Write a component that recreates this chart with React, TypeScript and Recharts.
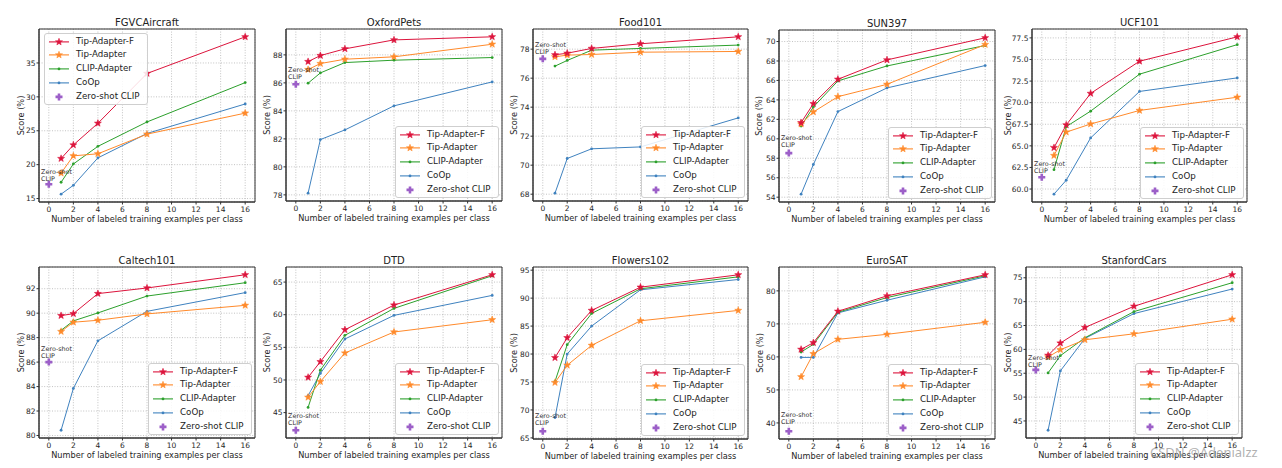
import React from 'react';
import { LineChart, Line, XAxis, YAxis, CartesianGrid, Legend, ReferenceArea } from 'recharts';

// ---------- data ----------
const datasetNames = ['FGVCAircraft', 'OxfordPets', 'Food101', 'SUN397', 'UCF101', 'Caltech101', 'DTD', 'Flowers102', 'EuroSAT', 'StanfordCars'];
const shots = [1, 2, 4, 8, 16];
const xTicks = [0, 2, 4, 6, 8, 10, 12, 14, 16];

const tipAdapterF = [
  [20.9, 22.9, 26.1, 33.45, 38.85],
  [87.52, 87.95, 88.43, 89.07, 89.29],
  [77.61, 77.72, 78.05, 78.37, 78.85],
  [61.66, 63.61, 66.12, 68.11, 70.38],
  [64.79, 67.42, 71.07, 74.8, 77.62],
  [89.8, 89.96, 91.6, 92.06, 93.14],
  [50.4, 52.8, 57.7, 61.48, 66.12],
  [79.35, 82.92, 87.8, 91.96, 94.17],
  [62.28, 64.3, 73.82, 78.48, 84.86],
  [58.75, 61.32, 64.58, 69.03, 75.63],
];
const tipAdapter = [
  [18.75, 21.3, 21.6, 24.5, 27.6],
  [86.95, 87.38, 87.69, 87.86, 88.76],
  [77.47, 77.59, 77.63, 77.79, 77.84],
  [61.52, 62.76, 64.33, 65.6, 69.69],
  [63.88, 66.59, 67.53, 69.1, 70.63],
  [88.5, 89.26, 89.42, 89.94, 90.64],
  [47.35, 49.75, 54.13, 57.35, 59.23],
  [74.9, 78.0, 81.55, 85.95, 87.8],
  [53.97, 60.96, 65.32, 66.84, 70.48],
  [58.4, 59.93, 62.01, 63.26, 66.32],
];
const clipAdapter = [
  [17.4, 20.1, 22.7, 26.3, 32.1],
  [85.98, 86.71, 87.45, 87.62, 87.81],
  [76.83, 77.22, 77.93, 78.05, 78.28],
  [61.31, 63.27, 65.95, 67.49, 69.59],
  [62.24, 67.22, 69.02, 73.3, 76.72],
  [88.6, 89.37, 90.02, 91.4, 92.49],
  [45.8, 51.5, 56.84, 60.97, 65.97],
  [75.1, 81.67, 87.26, 91.67, 93.81],
  [61.47, 63.8, 73.52, 77.97, 84.56],
  [55.07, 58.68, 62.43, 67.92, 73.96],
];
const coOp = [
  [15.65, 16.95, 21.0, 24.6, 28.95],
  [78.12, 81.95, 82.64, 84.36, 86.07],
  [68.07, 70.46, 71.13, 71.26, 73.26],
  [54.31, 57.36, 62.8, 65.23, 67.53],
  [59.41, 61.02, 65.92, 71.3, 72.87],
  [80.43, 83.85, 87.74, 90.15, 91.68],
  [47.6, 51.0, 56.28, 59.9, 62.96],
  [68.63, 80.0, 85.0, 91.49, 93.33],
  [59.85, 59.85, 73.32, 77.16, 84.25],
  [43.06, 55.49, 62.29, 67.5, 72.64],
];
const zeroShotClip = [17.1, 85.9, 77.33, 58.53, 61.37, 86.0, 42.3, 66.2, 37.5, 55.7];

const yTicks = [
  [15, 20, 25, 30, 35],
  [78, 80, 82, 84, 86, 88],
  [68, 70, 72, 74, 76, 78],
  [54, 56, 58, 60, 62, 64, 66, 68, 70],
  [60, 62.5, 65, 67.5, 70, 72.5, 75, 77.5],
  [80, 82, 84, 86, 88, 90, 92],
  [45, 50, 55, 60, 65],
  [65, 70, 75, 80, 85, 90, 95],
  [40, 50, 60, 70, 80],
  [45, 50, 55, 60, 65, 70, 75],
];
const yTickDecimals = [0, 0, 0, 0, 1, 0, 0, 0, 0, 0];

// ---------- layout / style ----------
const FONT = "'DejaVu Sans', sans-serif";
// [left, top, width, height] of each axes box
const panelBoxes = [
  [39, 29, 216, 173],
  [286, 29, 216, 172],
  [533, 29, 215, 172],
  [779, 30, 216, 172],
  [1032, 29, 215, 173],
  [39, 267, 216, 171],
  [286, 267, 216, 171],
  [533, 267, 215, 172],
  [779, 267, 216, 172],
  [1026, 267, 216, 171],
];
const legendUpperLeft = [true, false, false, false, false, false, false, false, false, false];
const yLabelDist = [18, 19, 19, 20, 24, 18, 19, 19, 19, 18];
const zsLift = [5.7, 7.3, 6.4, 8.4, 6, 6, 7.3, 8, 9, 5];

const M_LEFT = 40;
const M_TOP = 28;
const M_RIGHT = 10;
const X_H = 30;
const X_DOMAIN: [number, number] = [-0.8, 16.8];

const SERIES = [
  { key: 'tipF', name: 'Tip-Adapter-F', color: '#dc143c', marker: 'star' },
  { key: 'tip', name: 'Tip-Adapter', color: '#ff8a2b', marker: 'star' },
  { key: 'clipA', name: 'CLIP-Adapter', color: '#2ca02c', marker: 'dot' },
  { key: 'coop', name: 'CoOp', color: '#3f82bf', marker: 'dot' },
];
const ZS_COLOR = '#9c5fc8';
const SERIES_VALUES: Record<string, number[][]> = { tipF: tipAdapterF, tip: tipAdapter, clipA: clipAdapter, coop: coOp };

function starPath(cx: number, cy: number, R: number) {
  const r = R * 0.42;
  let d = '';
  for (let k = 0; k < 10; k++) {
    const ang = -Math.PI / 2 + (k * Math.PI) / 5;
    const rad = k % 2 === 0 ? R : r;
    d += (k === 0 ? 'M' : 'L') + (cx + rad * Math.cos(ang)).toFixed(2) + ',' + (cy + rad * Math.sin(ang)).toFixed(2);
  }
  return d + 'Z';
}
function plusPath(cx: number, cy: number, R: number, t: number) {
  return `M${cx - t},${cy - R}H${cx + t}V${cy - t}H${cx + R}V${cy + t}H${cx + t}V${cy + R}H${cx - t}V${cy + t}H${cx - R}V${cy - t}H${cx - t}Z`;
}

function Marker({ type, cx, cy, color }: { type: string; cx: number; cy: number; color: string }) {
  if (type === 'star') return <path d={starPath(cx, cy, 3.7)} fill={color} stroke={color} strokeWidth={0.5} />;
  if (type === 'plus') return <path d={plusPath(cx, cy, 3.5, 1.3)} fill={color} />;
  return <circle cx={cx} cy={cy} r={1.4} fill={color} />;
}

const makeDot = (type: string, color: string) => (props: any) => {
  const { cx, cy, index } = props;
  if (cx == null || cy == null || Number.isNaN(cx) || Number.isNaN(cy)) return <g key={`d${index}`} />;
  return <Marker key={`d${index}`} type={type} cx={cx} cy={cy} color={color} />;
};

const makeZsDot = (lift: number) => (props: any) => {
  const { cx, cy, index } = props;
  if (cx == null || cy == null || Number.isNaN(cx) || Number.isNaN(cy)) return <g key={`z${index}`} />;
  return (
    <g key={`z${index}`}>
      <path d={plusPath(cx, cy, 3.5, 1.3)} fill={ZS_COLOR} />
      <text x={cx - 7.7} y={cy - lift - 7} fontSize={6.4} fontFamily={FONT} fill="#333" dominantBaseline="central">Zero-shot</text>
      <text x={cx - 7.7} y={cy - lift} fontSize={6.4} fontFamily={FONT} fill="#333" dominantBaseline="central">CLIP</text>
    </g>
  );
};

const XLab = (props: any) => {
  const vb = props.viewBox;
  if (!vb) return null;
  return (
    <text x={vb.x + vb.width / 2} y={vb.y + 17} textAnchor="middle" dominantBaseline="central" fontSize={8.2} fontFamily={FONT} fill="#262626">
      Number of labeled training examples per class
    </text>
  );
};

const YLab = (props: any) => {
  const vb = props.viewBox;
  if (!vb) return null;
  const x = vb.x + vb.width - props.dist;
  const y = vb.y + vb.height / 2;
  return (
    <text x={x} y={y} transform={`rotate(-90 ${x} ${y})`} textAnchor="middle" dominantBaseline="central" fontSize={8.2} fontFamily={FONT} fill="#262626">
      Score (%)
    </text>
  );
};

const LEG_W = 104;
const LEG_H = 72;
const ROW_H = 13.8;

const LegendBox = () => (
  <div
    style={{
      width: LEG_W,
      height: LEG_H,
      boxSizing: 'border-box',
      border: '1px solid #cfcfcf',
      borderRadius: 3,
      background: 'rgba(255,255,255,0.85)',
      fontFamily: FONT,
      fontSize: 8.7,
      color: '#222',
      paddingTop: 0.5,
    }}
  >
    {SERIES.map((s) => (
      <div key={s.key} style={{ display: 'flex', alignItems: 'center', height: ROW_H }}>
        <svg width={30} height={ROW_H} style={{ flex: 'none' }}>
          <line x1={4} x2={24} y1={ROW_H / 2} y2={ROW_H / 2} stroke={s.color} strokeWidth={1.1} />
          <Marker type={s.marker} cx={14} cy={ROW_H / 2} color={s.color} />
        </svg>
        <span style={{ whiteSpace: 'nowrap', lineHeight: `${ROW_H}px`, marginLeft: 1 }}>{s.name}</span>
      </div>
    ))}
    <div style={{ display: 'flex', alignItems: 'center', height: ROW_H }}>
      <svg width={30} height={ROW_H} style={{ flex: 'none' }}>
        <Marker type="plus" cx={14} cy={ROW_H / 2} color={ZS_COLOR} />
      </svg>
      <span style={{ whiteSpace: 'nowrap', lineHeight: `${ROW_H}px`, marginLeft: 1 }}>Zero-shot CLIP</span>
    </div>
  </div>
);

function Panel({ i }: { i: number }) {
  const [bl, bt, bw, bh] = panelBoxes[i];
  const W = M_LEFT + bw + M_RIGHT;
  const H = M_TOP + bh + X_H;

  const rows: any[] = [{ x: 0, zs: zeroShotClip[i] }];
  shots.forEach((s, j) => {
    const r: any = { x: s };
    SERIES.forEach((ser) => {
      r[ser.key] = SERIES_VALUES[ser.key][i][j];
    });
    rows.push(r);
  });

  const all = [zeroShotClip[i], ...tipAdapterF[i], ...tipAdapter[i], ...clipAdapter[i], ...coOp[i]];
  const mn = Math.min(...all);
  const mx = Math.max(...all);
  const pad = (mx - mn) * 0.05;
  const yDomain: [number, number] = [mn - pad, mx + pad];

  const legLeft = legendUpperLeft[i] ? M_LEFT + 5 : M_LEFT + bw - 3 - LEG_W;
  const legTop = legendUpperLeft[i] ? M_TOP + 4 : M_TOP + bh - 3 - LEG_H;
  const dec = yTickDecimals[i];

  return (
    <div style={{ position: 'absolute', left: bl - M_LEFT, top: bt - M_TOP, width: W, height: H }}>
      <div
        style={{
          position: 'absolute',
          left: M_LEFT,
          top: M_TOP - 12.5,
          width: bw,
          height: 12,
          lineHeight: '12px',
          textAlign: 'center',
          fontFamily: FONT,
          fontSize: 10,
          color: '#222',
          zIndex: 2,
        }}
      >
        {datasetNames[i]}
      </div>
      <LineChart width={W} height={H} data={rows} margin={{ top: M_TOP, right: M_RIGHT, bottom: 0, left: 0 }}>
        <CartesianGrid stroke="#b4b4b4" strokeDasharray="1 1.6" strokeWidth={0.8} />
        <XAxis
          dataKey="x"
          type="number"
          domain={X_DOMAIN}
          ticks={xTicks}
          interval={0}
          height={X_H}
          tickSize={2.5}
          tickMargin={2}
          tick={{ fontSize: 7.5, fontFamily: FONT, fill: '#262626' }}
          axisLine={{ stroke: '#333', strokeWidth: 1 }}
          tickLine={{ stroke: '#333' }}
          label={<XLab />}
        />
        <YAxis
          type="number"
          domain={yDomain}
          ticks={yTicks[i]}
          interval={0}
          width={M_LEFT}
          tickSize={2.5}
          tickMargin={1}
          tickFormatter={(v: number) => v.toFixed(dec)}
          tick={{ fontSize: 7.5, fontFamily: FONT, fill: '#262626' }}
          axisLine={{ stroke: '#333', strokeWidth: 1 }}
          tickLine={{ stroke: '#333' }}
          label={<YLab dist={yLabelDist[i]} />}
        />
        <ReferenceArea x1={X_DOMAIN[0]} x2={X_DOMAIN[1]} y1={yDomain[0]} y2={yDomain[1]} fill="none" fillOpacity={0} stroke="#333" strokeWidth={1} />
        {[...SERIES].reverse().map((s) => (
          <Line
            key={s.key}
            dataKey={s.key}
            type="linear"
            stroke={s.color}
            strokeWidth={1}
            dot={makeDot(s.marker, s.color)}
            activeDot={false}
            isAnimationActive={false}
          />
        ))}
        <Line dataKey="zs" stroke="none" dot={makeZsDot(zsLift[i])} activeDot={false} isAnimationActive={false} />
        <Legend
          content={() => <LegendBox />}
          layout="vertical"
          align="center"
          verticalAlign="middle"
          wrapperStyle={{ left: legLeft, top: legTop, width: LEG_W, height: LEG_H }}
        />
      </LineChart>
    </div>
  );
}

export default function App() {
  return (
    <div style={{ position: 'absolute', left: 0, top: 0, width: 1282, height: 468, background: '#fff', overflow: 'hidden' }}>
      {datasetNames.map((_, i) => (
        <Panel key={i} i={i} />
      ))}
      <div
        style={{
          position: 'absolute',
          left: 1150,
          top: 443,
          fontFamily: "'Noto Sans', sans-serif",
          fontSize: 13,
          color: 'rgba(150,150,150,0.75)',
          whiteSpace: 'nowrap',
        }}
      >
        CSDN @Adenialzz
      </div>
    </div>
  );
}
